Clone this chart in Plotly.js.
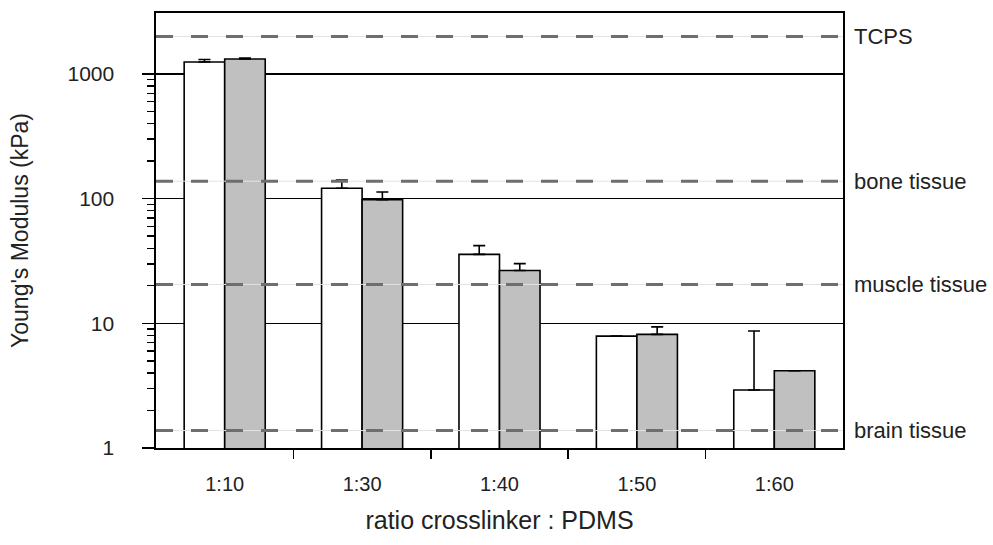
<!DOCTYPE html>
<html>
<head>
<meta charset="utf-8">
<script src="https://cdn.plot.ly/plotly-3.0.1.min.js"></script>
<style>html,body{margin:0;padding:0;background:#fff;}#chart{width:993px;height:545px;}</style>
</head>
<body>
<div id="chart"></div>
<script>
// categories
var ratios = ['1:10', '1:30', '1:40', '1:50', '1:60'];
// series A (white) and B (grey) – Young's modulus in kPa
var seriesA = [1248, 121, 35.7, 7.9, 2.92];
var seriesB = [1319, 98, 26.5, 8.16, 4.17];
// upper error bars
var errA = [60, 20, 6.3, 0, 5.75];
var errB = [25, 15, 3.6, 1.2, 0];
// reference tissue stiffness lines
var refNames = ['TCPS', 'bone tissue', 'muscle tissue', 'brain tissue'];
var refValues = [2000, 138, 20.5, 1.38];
// y axis ticks
var yTickVals = [1, 10, 100, 1000];
var yTickText = ['1', '10', '100', '1000'];
var yMinorVals = [2,3,4,5,6,7,8,9,20,30,40,50,60,70,80,90,200,300,400,500,600,700,800,900];
var xBoundaryTicks = [0.5, 1.5, 2.5, 3.5];

var font = 'Liberation Sans, Arial, sans-serif';

var traces = [
  {type:'bar', x: ratios, y: seriesA, name:'A',
   marker:{color:'#ffffff', line:{color:'#000', width:1.6}},
   error_y:{type:'data', symmetric:false, array: errA, arrayminus: errA.map(function(){return 0;}), color:'#000', thickness:1.6, width:6}},
  {type:'bar', x: ratios, y: seriesB, name:'B',
   marker:{color:'#c0c0c0', line:{color:'#000', width:1.6}},
   error_y:{type:'data', symmetric:false, array: errB, arrayminus: errB.map(function(){return 0;}), color:'#000', thickness:1.6, width:6}}
];

var shapes = [];
var annotations = [];
refValues.forEach(function(v, i){
  shapes.push({type:'line', xref:'paper', x0:0, x1:1, yref:'y', y0:v, y1:v, layer:'above',
    line:{color:'#e2e2e2', width:1}});
  shapes.push({type:'line', xref:'paper', x0:0, x1:1, yref:'y', y0:v, y1:v, layer:'above',
    line:{color:'#6e6e6e', width:3, dash:'17px,18px'}});
  annotations.push({xref:'paper', x:1, xanchor:'left', xshift:9, yref:'y', y:Math.log10(v), yanchor:'middle',
    text: refNames[i], showarrow:false, font:{family:font, size:22, color:'#222'}});
});

var layout = {
  width: 993, height: 545,
  margin: {l:156, r:150, t:13, b:97},
  paper_bgcolor:'#fff', plot_bgcolor:'#fff',
  showlegend:false,
  barmode:'group', bargap:0.41, bargroupgap:0,
  font:{family:font, color:'#222'},
  xaxis:{type:'category', range:[-0.5, 4.5], showline:true, linecolor:'#000', linewidth:1.6, mirror:true,
    ticks:'', showgrid:false, zeroline:false, tickfont:{size:20, family:font, color:'#222'}, ticklabelstandoff:17,
    title:{text:'ratio crosslinker : PDMS', font:{size:25, family:font, color:'#222'}, standoff:18}},
  xaxis2:{overlaying:'x', anchor:'y', range:[-0.5, 4.5], tickmode:'array', tickvals:xBoundaryTicks,
    ticks:'outside', ticklen:10, tickwidth:1.6, tickcolor:'#000', showticklabels:false, showgrid:false, zeroline:false, side:'bottom'},
  yaxis:{type:'log', range:[0, 3.489], showline:true, linecolor:'#000', linewidth:1.6, mirror:true,
    tickmode:'array', tickvals:yTickVals, ticktext:yTickText, ticks:'outside', ticklen:12, tickwidth:1.6, tickcolor:'#000',
    showgrid:true, gridcolor:'#000', gridwidth:1.6, zeroline:false,
    tickfont:{size:21, family:font, color:'#222'}, ticklabelstandoff:24,
    minor:{tickmode:'array', tickvals:yMinorVals, ticks:'outside', ticklen:7, tickwidth:1.4, tickcolor:'#000', showgrid:false},
    title:{text:"Young's Modulus (kPa)", font:{size:23, family:font, color:'#222'}, standoff:32}},
  shapes: shapes,
  annotations: annotations
};

// invisible trace so the boundary-tick axis is drawn
traces.push({type:'scatter', x:[0], y:[1], xaxis:'x2', yaxis:'y', mode:'markers', marker:{opacity:0}, hoverinfo:'skip', showlegend:false});

Plotly.newPlot('chart', traces, layout, {staticPlot:true});
</script>
</body>
</html>
